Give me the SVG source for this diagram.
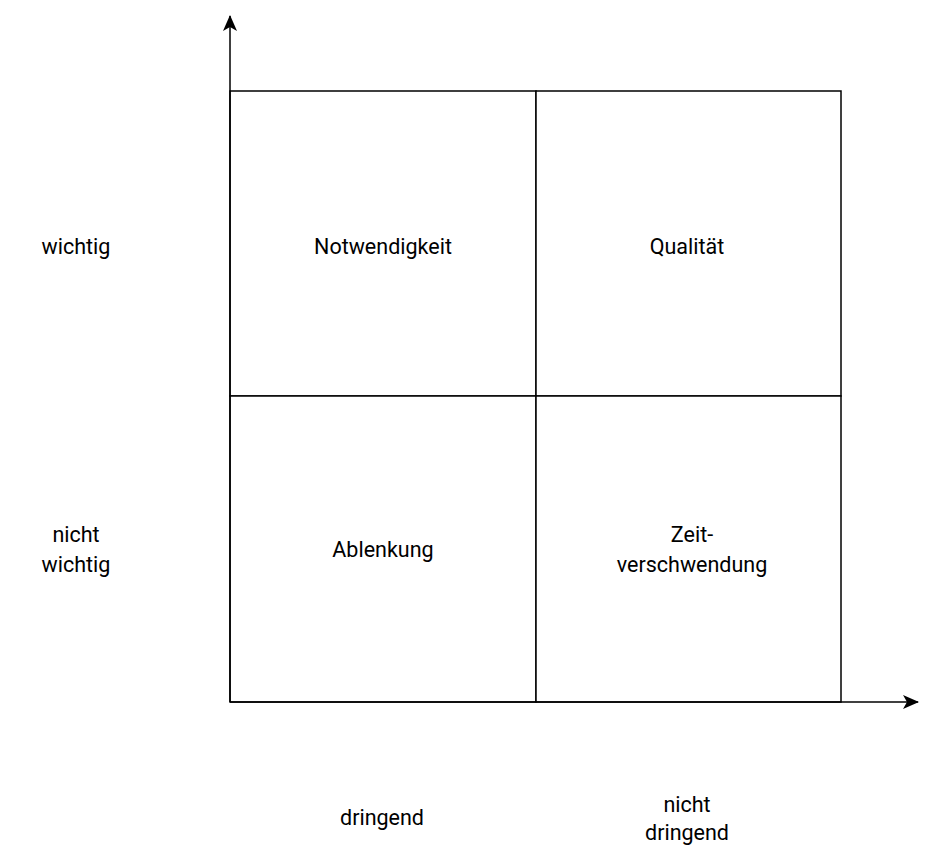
<svg xmlns="http://www.w3.org/2000/svg" width="936" height="856" viewBox="0 0 936 856">
<style>
.c{fill:#fff;stroke:#000;stroke-width:1.5}
text{font-family:Roboto,"Liberation Sans",sans-serif;font-size:21.5px;fill:#000;text-anchor:middle}
.a{stroke:#000;stroke-width:1.5;fill:none}
</style>
<defs><marker id="m" viewBox="0 0 16 14" refX="15" refY="7" markerWidth="16" markerHeight="14" markerUnits="userSpaceOnUse" orient="auto"><path d="M0,0 L16,7 L0,14 L4,7 Z" fill="#000"/></marker></defs>
<rect width="936" height="856" fill="#fff"/>
<g id="n1"><rect class="c" x="230" y="91" width="306" height="305"/><text x="383" y="254">Notwendigkeit</text></g>
<g id="n2"><rect class="c" x="536" y="91" width="305" height="305"/><text x="687" y="254">Qualität</text></g>
<g id="n3"><rect class="c" x="230" y="396" width="306" height="306"/><text x="383" y="557">Ablenkung</text></g>
<g id="n4"><rect class="c" x="536" y="396" width="305" height="306"/><text x="692" y="542">Zeit-</text><text x="692" y="572">verschwendung</text></g>
<g id="connectors"><path class="a" d="M230,702 V16" marker-end="url(#m)"/><path class="a" d="M230,702 H918" marker-end="url(#m)"/></g>
<g id="labels">
<text x="76" y="254">wichtig</text>
<text x="76" y="542">nicht</text><text x="76" y="572">wichtig</text>
<text x="382" y="825">dringend</text>
<text x="687" y="812">nicht</text><text x="687" y="840">dringend</text>
</g>
</svg>
